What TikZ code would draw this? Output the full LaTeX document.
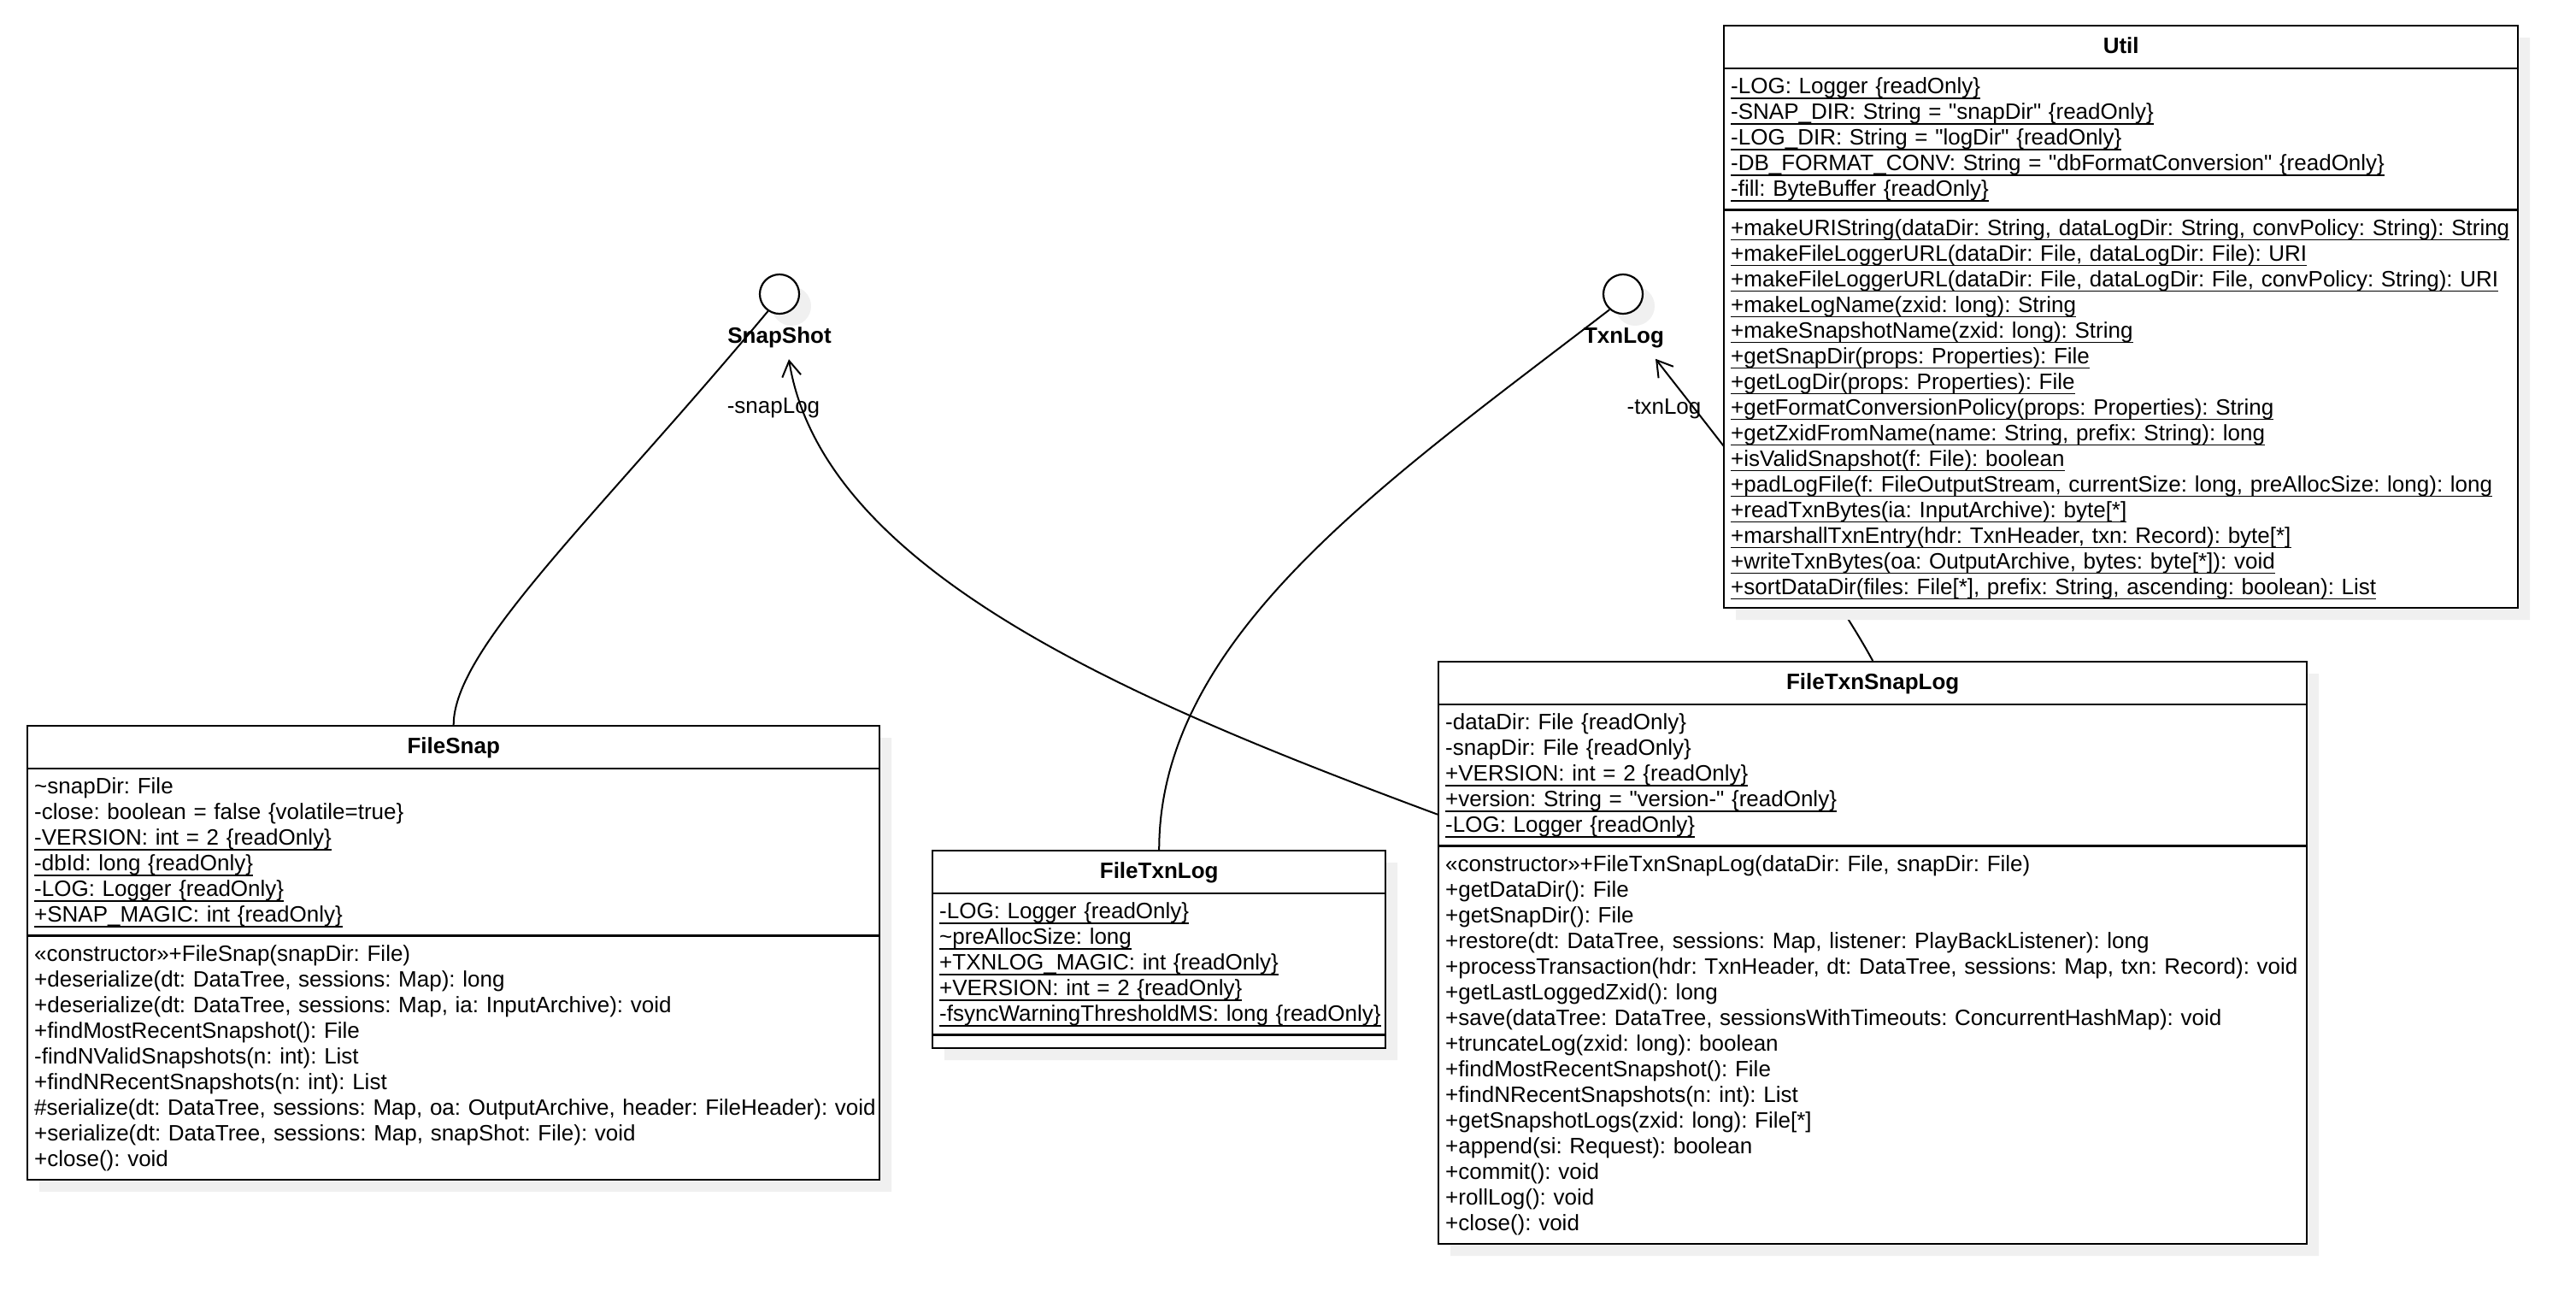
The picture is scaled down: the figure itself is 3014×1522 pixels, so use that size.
\documentclass[tikz,border=0pt]{standalone}
\usepackage{fontspec}
\setmainfont{Liberation Sans}[Ligatures=TeXOff]
\usepackage{tikz}
\usetikzlibrary{shapes.multipart, shadows, arrows.meta, calc, positioning}

\setlength{\parindent}{0pt}
\frenchspacing
\newcommand{\umlfont}{\fontsize{13}{15}\selectfont}
\newcommand{\umlstrut}{\rule[-4pt]{0pt}{15pt}}
\newcommand{\cname}[1]{\makebox[\hsize]{\rule[-5pt]{0pt}{17pt}\bfseries #1}}
\newcommand{\mem}[1]{\umlstrut\mbox{#1}}
\newcommand{\smem}[1]{\umlstrut\sbox0{#1}\rlap{\rule[-3pt]{\wd0}{0.8pt}}\usebox0}

\begin{document}
\begin{tikzpicture}[x=0.5pt, y=-0.5pt]
        % styles for the class diagram
        \tikzset{
            classbox/.style={rectangle split, rectangle split parts=3, draw, line width=1.2pt,
                fill=white, text width=#1, align=left, inner xsep=4pt, inner ysep=3.3pt,
                anchor=north west, font=\umlfont,
                drop shadow={shadow xshift=7pt, shadow yshift=-7pt, fill=black!6, opacity=1}},
            iface/.style={circle, draw, line width=1.1pt, fill=white, minimum size=23pt, inner sep=0pt,
                drop shadow={shadow xshift=7pt, shadow yshift=-7pt, fill=black!6, opacity=1}},
            ifacename/.style={font=\umlfont\bfseries},
            role/.style={font=\umlfont},
            realize/.style={line width=1pt},
            assoc/.style={line width=1pt, -{Straight Barb[length=9pt, width=11pt]}}
        }
        \useasboundingbox (0,0) rectangle (3014,1522);

        % Interfaces
        \node[iface] (snapshot) at (912,344) {};
        \node[ifacename] (snaplbl) at (912,395) {SnapShot};
        \node[iface] (txnlog) at (1899,344) {};
        \node[ifacename] (txnlbl) at (1900,395) {TxnLog};

        % Classes
        \node[classbox=490.5pt] (filesnap) at (31,848) {\cname{FileSnap}
            \nodepart{two}
            \mem{\textasciitilde snapDir: File}\\
            \mem{-close: boolean = false \{volatile=true\}}\\
            \smem{-VERSION: int = 2 \{readOnly\}}\\
            \smem{-dbId: long \{readOnly\}}\\
            \smem{-LOG: Logger \{readOnly\}}\\
            \smem{+SNAP\_MAGIC: int \{readOnly\}}
            \nodepart{three}
            \mem{«constructor»+FileSnap(snapDir: File)}\\
            \mem{+deserialize(dt: DataTree, sessions: Map): long}\\
            \mem{+deserialize(dt: DataTree, sessions: Map, ia: InputArchive): void}\\
            \mem{+findMostRecentSnapshot(): File}\\
            \mem{-findNValidSnapshots(n: int): List}\\
            \mem{+findNRecentSnapshots(n: int): List}\\
            \mem{\#serialize(dt: DataTree, sessions: Map, oa: OutputArchive, header: FileHeader): void}\\
            \mem{+serialize(dt: DataTree, sessions: Map, snapShot: File): void}\\
            \mem{+close(): void}};

        \node[classbox=257pt] (filetxnlog) at (1090,994) {\cname{FileTxnLog}
            \nodepart{two}
            \smem{-LOG: Logger \{readOnly\}}\\
            \smem{\textasciitilde preAllocSize: long}\\
            \smem{+TXNLOG\_MAGIC: int \{readOnly\}}\\
            \smem{+VERSION: int = 2 \{readOnly\}}\\
            \smem{-fsyncWarningThresholdMS: long \{readOnly\}}
            \nodepart{three}
            \rule{0pt}{0pt}};

        \node[classbox=500pt] (filetxnsnaplog) at (1682,773) {\cname{FileTxnSnapLog}
            \nodepart{two}
            \mem{-dataDir: File \{readOnly\}}\\
            \mem{-snapDir: File \{readOnly\}}\\
            \smem{+VERSION: int = 2 \{readOnly\}}\\
            \smem{+version: String = "version-" \{readOnly\}}\\
            \smem{-LOG: Logger \{readOnly\}}
            \nodepart{three}
            \mem{«constructor»+FileTxnSnapLog(dataDir: File, snapDir: File)}\\
            \mem{+getDataDir(): File}\\
            \mem{+getSnapDir(): File}\\
            \mem{+restore(dt: DataTree, sessions: Map, listener: PlayBackListener): long}\\
            \mem{+processTransaction(hdr: TxnHeader, dt: DataTree, sessions: Map, txn: Record): void}\\
            \mem{+getLastLoggedZxid(): long}\\
            \mem{+save(dataTree: DataTree, sessionsWithTimeouts: ConcurrentHashMap): void}\\
            \mem{+truncateLog(zxid: long): boolean}\\
            \mem{+findMostRecentSnapshot(): File}\\
            \mem{+findNRecentSnapshots(n: int): List}\\
            \mem{+getSnapshotLogs(zxid: long): File[*]}\\
            \mem{+append(si: Request): boolean}\\
            \mem{+commit(): void}\\
            \mem{+rollLog(): void}\\
            \mem{+close(): void}};

        % Realizations (lollipop)
        \draw[realize] (snapshot.-124) .. controls +(-200,240) and +(0,-90) .. (filesnap.north);
        \draw[realize] (txnlog.-131) .. controls +(-260,200) and +(0,-250) .. (filetxnlog.north);

        % Associations
        \draw[assoc] ($(filetxnsnaplog.north west)!0.263!(filetxnsnaplog.south west)$)
            .. controls +(-350,-130) and +(40,250) .. ([xshift=5.5pt,yshift=-3pt]snaplbl.south);
        \node[role] (snaprole) at (905,477) {-snapLog};
        \draw[assoc] (filetxnsnaplog.north)
            .. controls +(-60,-110) and +(70,90) .. ([xshift=18.5pt,yshift=-3pt]txnlbl.south);
        \node[role] (txnrole) at (1947,478) {-txnLog};

        % Util sits on top of the txnLog line
        \node[classbox=456.5pt] (util) at (2016,29) {\cname{Util}
            \nodepart{two}
            \smem{-LOG: Logger \{readOnly\}}\\
            \smem{-SNAP\_DIR: String = "snapDir" \{readOnly\}}\\
            \smem{-LOG\_DIR: String = "logDir" \{readOnly\}}\\
            \smem{-DB\_FORMAT\_CONV: String = "dbFormatConversion" \{readOnly\}}\\
            \smem{-fill: ByteBuffer \{readOnly\}}
            \nodepart{three}
            \smem{+makeURIString(dataDir: String, dataLogDir: String, convPolicy: String): String}\\
            \smem{+makeFileLoggerURL(dataDir: File, dataLogDir: File): URI}\\
            \smem{+makeFileLoggerURL(dataDir: File, dataLogDir: File, convPolicy: String): URI}\\
            \smem{+makeLogName(zxid: long): String}\\
            \smem{+makeSnapshotName(zxid: long): String}\\
            \smem{+getSnapDir(props: Properties): File}\\
            \smem{+getLogDir(props: Properties): File}\\
            \smem{+getFormatConversionPolicy(props: Properties): String}\\
            \smem{+getZxidFromName(name: String, prefix: String): long}\\
            \smem{+isValidSnapshot(f: File): boolean}\\
            \smem{+padLogFile(f: FileOutputStream, currentSize: long, preAllocSize: long): long}\\
            \smem{+readTxnBytes(ia: InputArchive): byte[*]}\\
            \smem{+marshallTxnEntry(hdr: TxnHeader, txn: Record): byte[*]}\\
            \smem{+writeTxnBytes(oa: OutputArchive, bytes: byte[*]): void}\\
            \smem{+sortDataDir(files: File[*], prefix: String, ascending: boolean): List}};

    \end{tikzpicture}
\end{document}
